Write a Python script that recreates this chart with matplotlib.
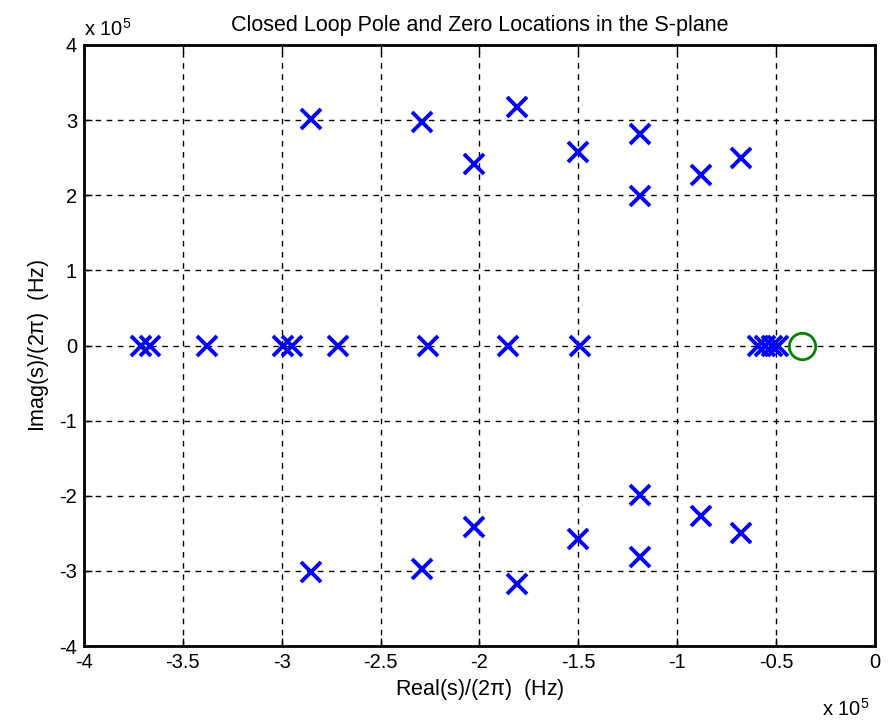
import matplotlib
matplotlib.use("Agg")
import matplotlib.pyplot as plt
from matplotlib import font_manager
import numpy as np

# ---- data (Hz) ----
pole_real_axis = [-3.713e5, -3.666e5, -3.380e5, -2.992e5, -2.950e5, -2.716e5,
                  -2.259e5, -1.854e5, -1.492e5,
                  -0.592e5, -0.557e5, -0.521e5, -0.491e5]
pole_cplx_re = [-2.85e5, -2.29e5, -1.81e5, -2.03e5, -1.50e5, -1.19e5, -1.19e5, -0.88e5, -0.68e5]
pole_cplx_im = [3.02e5, 2.98e5, 3.17e5, 2.41e5, 2.58e5, 2.82e5, 1.99e5, 2.27e5, 2.49e5]
zero_re = [-0.371e5]
zero_im = [0.0]
xticks = [-4, -3.5, -3, -2.5, -2, -1.5, -1, -0.5, 0]
yticks = [-4, -3, -2, -1, 0, 1, 2, 3, 4]
scale = 1e5

avail = {f.name for f in font_manager.fontManager.ttflist}
fam = [f for f in ["Liberation Sans Narrow", "Liberation Sans", "DejaVu Sans"] if f in avail]
plt.rcParams['font.family'] = fam
plt.rcParams['mathtext.fontset'] = 'custom'
plt.rcParams['mathtext.rm'] = fam[0]
plt.rcParams['mathtext.it'] = fam[0]

FS = 14.5

fig = plt.figure(figsize=(8.92, 7.22), dpi=100)
ax = fig.add_axes([84/892, 1-646/722, (875-84)/892, (646-45)/722])

pr = np.array(pole_real_axis) / scale
cr = np.array(pole_cplx_re) / scale
ci = np.array(pole_cplx_im) / scale
all_re = np.concatenate([pr, cr, cr])
all_im = np.concatenate([np.zeros_like(pr), ci, -ci])
ax.plot(all_re, all_im, linestyle='none', marker='x', color='#0000ff',
        markersize=14, markeredgewidth=2.8)
ax.plot(np.array(zero_re) / scale, zero_im, linestyle='none', marker='o',
        markersize=19, markerfacecolor='none', markeredgecolor='#008000',
        markeredgewidth=2)

ax.set_xlim(-4, 0)
ax.set_ylim(-4, 4)
ax.set_xticks(xticks)
ax.set_yticks(yticks)
ax.set_xticklabels([f"{t:g}" for t in xticks])
ax.set_yticklabels([f"{t:g}" for t in yticks])
ax.tick_params(direction='in', top=True, right=True, length=6, width=1,
               labelsize=FS, pad=5)
ax.grid(True, color='black', linestyle=(0, (4, 4)), linewidth=1)
for s in ax.spines.values():
    s.set_linewidth(2)

ax.set_title("Closed Loop Pole and Zero Locations in the S-plane", fontsize=15.5, pad=10)
ax.set_xlabel(r"Real(s)/(2$\pi$)  (Hz)", fontsize=15.5, labelpad=4)
ax.set_ylabel(r"Imag(s)/(2$\pi$)  (Hz)", fontsize=15.5, labelpad=6)

fig.text(84/892, 1-36/722, r"x 10$^5$", fontsize=FS, ha='left', va='baseline')
fig.text(822/892, 1-716/722, r"x 10$^5$", fontsize=FS, ha='left', va='baseline')

fig.savefig("out.png", dpi=100, facecolor='white')
